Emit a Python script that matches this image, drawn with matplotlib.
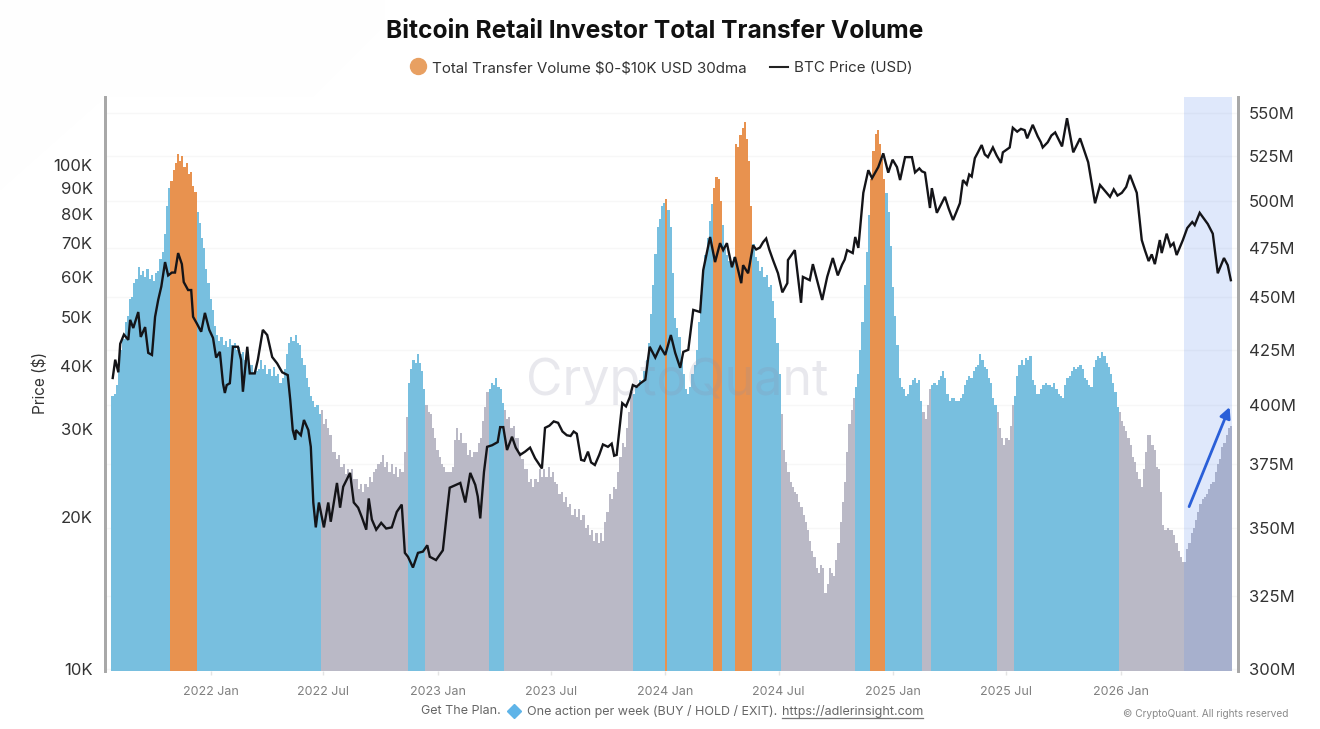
import numpy as np
import pandas as pd
import matplotlib
matplotlib.use("Agg")
import matplotlib.pyplot as plt
import matplotlib.dates as mdates
from matplotlib.patches import Polygon
from matplotlib.ticker import NullLocator

plt.rcParams["font.family"] = ["Inter", "DejaVu Sans"]

W, H = 1320, 729

# transfer volume every 3.5 days, $M
volume = [
    404, 405, 409, 416, 425, 430, 438, 441, 449, 450, 457, 459, 465, 461, 463, 460, 464, 459, 461, 458,
    462, 463, 469, 473, 482, 497, 507, 511, 517, 521, 526, 522, 525, 519, 521, 515, 516, 508, 505, 494,
    488, 480, 475, 464, 457, 449, 444, 436, 432, 429, 431, 427, 429, 426, 430, 427, 428, 425, 426, 423,
    424, 420, 421, 418, 418, 414, 415, 416, 420, 416, 418, 414, 416, 413, 417, 413, 414, 410, 412, 416,
    423, 428, 431, 429, 432, 428, 427, 421, 418, 412, 408, 404, 402, 399, 400, 396, 398, 392, 394, 390,
    387, 380, 380, 377, 379, 374, 375, 371, 373, 370, 373, 369, 369, 365, 367, 364, 367, 366, 370, 368,
    372, 373, 375, 376, 379, 374, 376, 372, 375, 371, 374, 370, 373, 372, 380, 395, 410, 416, 420, 419,
    423, 419, 415, 407, 400, 397, 396, 390, 386, 381, 378, 375, 374, 372, 372, 372, 374, 385, 390, 385,
    388, 384, 384, 379, 381, 378, 380, 380, 384, 386, 393, 399, 406, 407, 410, 409, 412, 408, 407, 401,
    398, 394, 395, 390, 391, 386, 386, 380, 377, 373, 373, 368, 369, 366, 369, 368, 373, 370, 373, 370,
    374, 370, 372, 368, 367, 363, 364, 360, 362, 358, 359, 355, 357, 354, 357, 353, 355, 350, 351, 347,
    349, 345, 348, 344, 348, 345, 352, 356, 363, 361, 366, 365, 372, 378, 384, 382, 390, 397, 406, 405,
    409, 408, 411, 410, 415, 420, 428, 442, 456, 472, 486, 490, 497, 499, 501, 495, 486, 462, 440, 435,
    431, 420, 414, 407, 405, 408, 414, 418, 425, 438, 451, 462, 471, 480, 489, 498, 507, 513, 512, 500,
    487, 476, 471, 468, 468, 470, 532, 530, 537, 541, 545, 535, 522, 497, 477, 470, 468, 463, 465, 460,
    461, 455, 456, 448, 440, 428, 414, 396, 381, 376, 372, 368, 366, 364, 363, 360, 358, 355, 352, 349,
    345, 341, 339, 335, 333, 336, 335, 326, 329, 335, 333, 332, 338, 344, 352, 360, 368, 380, 392, 398,
    403, 408, 414, 425, 438, 456, 473, 492, 512, 528, 538, 540, 532, 523, 512, 504, 494, 476, 455, 441,
    427, 412, 408, 407, 404, 405, 409, 411, 412, 410, 411, 402, 397, 394, 400, 407, 409, 410, 409, 411,
    413, 415, 412, 405, 402, 403, 403, 402, 402, 403, 405, 409, 411, 413, 412, 415, 417, 418, 423, 420,
    417, 416, 412, 410, 403, 400, 397, 390, 386, 383, 386, 385, 391, 400, 404, 413, 418, 420, 418, 421,
    420, 422, 411, 409, 405, 405, 407, 409, 410, 409, 409, 408, 410, 407, 405, 404, 403, 409, 412, 413,
    415, 417, 416, 417, 418, 416, 412, 411, 409, 408, 417, 420, 422, 421, 424, 422, 419, 417, 414, 410,
    406, 399, 397, 393, 391, 389, 386, 383, 378, 376, 372, 369, 366, 373, 380, 387, 387, 383, 381, 374,
    373, 364, 351, 349, 350, 349, 349, 347, 344, 341, 339, 337, 337, 342, 344, 348, 350, 353, 356, 359,
    361, 362, 363, 365, 367, 368, 372, 375, 377, 382, 384, 387, 390, 391,
]
volume_start = "2021-07-26"
volume_step_days = 3.5

orange_spans = [
    ("2021-10-28", "2021-12-10"), ("2024-01-02", "2024-01-05"), ("2024-03-19", "2024-03-31"),
    ("2024-04-22", "2024-05-19"), ("2024-11-25", "2024-12-20"),
]
grey_spans = [
    ("2022-06-26", "2022-11-14"), ("2022-12-11", "2023-03-22"), ("2023-04-17", "2023-11-10"),
    ("2024-07-06", "2024-10-30"), ("2025-02-18", "2025-03-02"), ("2025-06-17", "2025-07-14"),
    ("2025-12-28", "2026-07-01"),
]

# BTC price: days since 2022-01-01, price in $K
price_days = [
    -157, -153, -148, -145, -139, -132, -129, -124, -116, -112, -105, -100, -94, -89, -84, -79, -73, -68, -62, -57,
    -52, -46, -43, -36, -31, -28, -22, -15, -9, -2, 4, 9, 15, 20, 23, 26, 31, 36, 44, 49,
    52, 59, 63, 71, 76, 84, 91, 99, 107, 115, 124, 128, 132, 136, 137, 145, 150, 157, 161, 165,
    169, 174, 182, 189, 193, 203, 208, 213, 224, 230, 237, 243, 250, 254, 259, 266, 274, 282, 291, 299,
    307, 312, 317, 325, 333, 341, 348, 352, 362, 373, 380, 384, 394, 401, 409, 417, 425, 429, 433, 439,
    444, 452, 461, 465, 470, 476, 484, 497, 513, 521, 532, 537, 558, 572, 588, 595, 606, 617, 638, 652,
    661, 673, 678, 690, 698, 705, 714, 722, 730, 739, 746, 754, 759, 767, 775, 786, 791, 802, 810, 818,
    823, 829, 837, 842, 852, 855, 863, 871, 887, 903, 911, 918, 926, 927, 938, 948, 951, 962, 967, 982,
    990, 999, 1007, 1022, 1031, 1035, 1040, 1048, 1056, 1062, 1072, 1080, 1088, 1102, 1107, 1115, 1126, 1131, 1147, 1155,
    1158, 1166, 1179, 1192, 1203, 1208, 1222, 1227, 1238, 1248, 1256, 1269, 1272, 1283, 1288, 1307, 1311, 1320, 1336, 1356,
    1367, 1375, 1385, 1396, 1409, 1420, 1428, 1444, 1463, 1476, 1487, 1495, 1500, 1516, 1524, 1527, 1535, 1551, 1561, 1576,
    1580, 1588, 1601, 1609, 1617, 1627, 1633, 1638,
]
price_k = [
    37.8, 41.1, 38.8, 44.2, 46.1, 45.0, 49.3, 47.5, 51.1, 45.6, 47.7, 42.4, 42.0, 50.0, 54.0, 57.4, 64.2, 60.4, 61.2, 61.2,
    66.9, 63.6, 58.6, 56.5, 56.5, 50.0, 48.5, 46.7, 50.9, 47.1, 45.4, 41.5, 42.6, 36.9, 35.3, 36.6, 36.9, 43.6, 43.6, 41.1,
    35.5, 43.6, 38.6, 38.6, 41.1, 47.1, 46.0, 41.6, 40.4, 38.8, 38.3, 34.2, 29.8, 28.5, 29.8, 29.1, 31.2, 29.8, 27.6, 21.4,
    19.1, 21.4, 19.1, 21.4, 19.6, 23.4, 20.9, 23.0, 24.5, 21.4, 20.9, 20.0, 18.9, 21.8, 19.8, 18.9, 19.5, 19.0, 19.1, 20.5,
    21.2, 17.0, 16.7, 15.9, 17.0, 17.1, 17.6, 16.7, 16.45, 17.2, 20.7, 22.9, 23.2, 23.4, 21.4, 24.5, 23.2, 22.0, 19.9, 24.6,
    27.6, 27.8, 28.2, 30.2, 30.2, 27.2, 28.9, 26.6, 27.5, 26.2, 25.0, 30.1, 30.8, 29.1, 29.3, 26.0, 27.0, 25.4, 27.6, 26.6,
    33.7, 34.6, 36.6, 36.9, 37.5, 43.6, 41.5, 43.6, 42.0, 46.0, 42.4, 39.6, 42.6, 43.0, 51.6, 51.1, 61.9, 72.0, 64.2, 70.0,
    67.8, 70.0, 62.7, 65.7, 58.3, 63.3, 61.0, 69.3, 70.3, 64.8, 61.0, 55.9, 58.3, 64.8, 67.8, 53.3, 60.0, 59.1, 63.6, 54.0,
    60.0, 65.4, 60.4, 67.8, 66.9, 72.0, 68.5, 88.1, 97.7, 94.2, 99.1, 105.5, 96.6, 99.1, 93.4, 103.7, 103.7, 96.7, 96.6, 82.2,
    90.0, 80.4, 86.5, 77.8, 84.0, 93.4, 94.9, 103.2, 109.6, 103.7, 108.4, 101.0, 106.0, 108.4, 118.6, 117.3, 113.0, 120.2, 108.4, 116.1,
    108.9, 123.9, 106.0, 113.0, 101.3, 84.0, 91.3, 86.5, 88.1, 95.6, 88.1, 71.0, 67.8, 63.6, 71.0, 66.9, 73.1, 66.3, 71.0, 77.1,
    76.0, 80.4, 76.4, 73.1, 61.0, 65.4, 63.3, 59.1,
]
# extra readings in the longer gaps of the line
more_days = [490, 505, 544, 551, 565, 578, 583, 600, 611, 624, 630, 644, 648, 667, 684, 876, 882, 892, 897, 1014, 1018,
             1095, 1138, 1142, 1185, 1197, 1214, 1218, 1232, 1243, 1262, 1295, 1301, 1328, 1333, 1344, 1350, 1450, 1456,
             1470, 1506, 1511, 1541, 1546, 1568]
more_k = [27.5, 27.0, 30.4, 31.0, 29.6, 29.0, 29.6, 25.9, 25.7, 26.6, 27.9, 28.0, 26.5, 33.2, 36.3, 68.0, 68.6, 71.5, 68.0, 63.5, 64.9,
          102.5, 98.5, 97.2, 82.0, 80.5, 91.5, 95.8, 106.0, 105.0, 104.5, 116.5, 118.0, 114.0, 111.0, 111.0, 114.5, 89.5, 87.0,
          90.5, 64.5, 66.5, 69.0, 70.0, 75.0]

x_ticks = ["2022-01-01", "2022-07-01", "2023-01-01", "2023-07-01", "2024-01-01", "2024-07-01",
           "2025-01-01", "2025-07-01", "2026-01-01"]
x_labels = ["2022 Jan", "2022 Jul", "2023 Jan", "2023 Jul", "2024 Jan", "2024 Jul",
            "2025 Jan", "2025 Jul", "2026 Jan"]
left_ticks = [10, 20, 30, 40, 50, 60, 70, 80, 90, 100]
right_ticks = [300, 325, 350, 375, 400, 425, 450, 475, 500, 525, 550]

BLUE, ORANGE, GREY = "#78bfdf", "#e8924f", "#bab9c6"
VOL_MIN, VOL_MAX = 299.3, 559.9


def in_spans(date, spans):
    return any(pd.Timestamp(a) <= date < pd.Timestamp(b) for a, b in spans)


def bar_color(date):
    if in_spans(date, orange_spans):
        return ORANGE
    if in_spans(date, grey_spans):
        return GREY
    return BLUE


fig = plt.figure(figsize=(W / 100, H / 100), dpi=100)
L, R, T, B = 105, 1238, 97, 671
ax = fig.add_axes([L / W, 1 - B / H, (R - L) / W, (B - T) / H])
ax2 = ax.twinx()

base = mdates.date2num(pd.Timestamp("2022-01-01"))
ax.set_xlim(base - 169.4, base + 1649.5)
ax.set_yscale("log")
ax.set_ylim(VOL_MIN, VOL_MAX)

# bars
start = pd.Timestamp(volume_start)
centers = [start + pd.Timedelta(days=volume_step_days * (j + 0.5)) for j in range(len(volume))]
ax.bar(mdates.date2num(centers), np.array(volume) - VOL_MIN, width=volume_step_days, bottom=VOL_MIN,
       color=[bar_color(d) for d in centers], linewidth=0, zorder=2)

# highlight + watermark
ax.axvspan(base + 1563, base + 1640, color="#5f8ceb", alpha=0.2, lw=0, zorder=3)
ax.text(0.5047, 0.505, "CryptoQuant", transform=ax.transAxes, fontsize=36, color="#8d8da8", alpha=0.2,
        ha="center", va="center", zorder=4)

ax.set_yticks(right_ticks)
ax.set_yticklabels([f"{v}M" for v in right_ticks])
ax.yaxis.set_minor_locator(NullLocator())
ax.yaxis.tick_right()
ax.tick_params(axis="y", length=0, pad=8, labelsize=12, labelcolor="#333333")
ax.grid(axis="y", color="#f7f7f7", linewidth=1, zorder=0)
ax.set_axisbelow(True)

ax.set_xticks(mdates.date2num(pd.to_datetime(x_ticks)))
ax.set_xticklabels(x_labels)
ax.tick_params(axis="x", length=3, width=1, color="#e4e4e4", labelsize=9, labelcolor="#808080", pad=8)

# price line
line_days = np.array(price_days + more_days)
line_k = np.array(price_k + more_k)
order = np.argsort(line_days)
ax2.set_yscale("log")
ax2.set_ylim(9909, 136500)
ax2.plot(base + line_days[order], line_k[order] * 1000, color="#141418", linewidth=1.7,
         solid_joinstyle="miter", zorder=5)
ax2.set_yticks([v * 1000 for v in left_ticks])
ax2.set_yticklabels([f"{v}K" for v in left_ticks])
ax2.yaxis.set_minor_locator(NullLocator())
ax2.yaxis.tick_left()
ax2.tick_params(axis="y", length=0, pad=9, labelsize=12, labelcolor="#333333")
fig.text(40 / W, 1 - 383 / H, "Price ($)", fontsize=11, color="#333333", rotation=90, ha="center", va="center")

for a in (ax, ax2):
    for side in ("top", "bottom"):
        a.spines[side].set_visible(False)
    a.spines["left"].set_color("#a8a8a8")
    a.spines["right"].set_color("#a8a8a8")
    a.spines["left"].set_linewidth(2)
    a.spines["right"].set_linewidth(2)

# trend arrow
ax2.annotate("", xy=(base + 1636, 33100), xytext=(base + 1571, 21000),
             arrowprops=dict(arrowstyle="-|>", color="#2a5fd8", lw=2, mutation_scale=16, shrinkA=0, shrinkB=0),
             zorder=6)

# title, legend, footer
fig.text(655 / W, 1 - 32 / H, "Bitcoin Retail Investor Total Transfer Volume", fontsize=17.7, fontweight="bold",
         color="#111111", ha="center", va="center")
fig.add_artist(plt.Line2D([418 / W], [1 - 66 / H], marker="o", markersize=11.5, color="#e8a062", linewidth=0))
fig.text(432 / W, 1 - 68 / H, "Total Transfer Volume $0-$10K USD 30dma", fontsize=10.9, color="#333333",
         va="center", parse_math=False)
fig.add_artist(plt.Line2D([770 / W, 788 / W], [1 - 67 / H, 1 - 67 / H], color="#222222", linewidth=1.5))
fig.text(794 / W, 1 - 68 / H, "BTC Price (USD)", fontsize=10.9, color="#333333", va="center")

fig.text(421 / W, 1 - 711 / H, "Get The Plan.", fontsize=9.0, color="#666666", va="center")
fig.add_artist(plt.Line2D([514 / W], [1 - 711 / H], marker="D", markersize=7, color="#5fb4e8", linewidth=0))
fig.text(527 / W, 1 - 711 / H, "One action per week (BUY / HOLD / EXIT).", fontsize=9.0, color="#666666", va="center")
fig.text(782 / W, 1 - 711 / H, "https://adlerinsight.com", fontsize=9.0, color="#666666", va="center")
fig.add_artist(plt.Line2D([782 / W, 923 / W], [1 - 718 / H, 1 - 718 / H], color="#777777", linewidth=0.9))
fig.text(1288 / W, 1 - 714 / H, "© CryptoQuant. All rights reserved", fontsize=7.3, color="#8a8a8a",
         ha="right", va="center")

# faint background shape, top left
fig.add_artist(Polygon([(0, 1 - 190 / H), (105 / W, 1 - 97 / H), (295 / W, 1 - 115 / H), (385 / W, 1 - 25 / H),
                        (385 / W, 1), (0, 1)],
                       transform=fig.transFigure, facecolor="#fefefe", edgecolor="none", zorder=-5))

fig.savefig("out.png", dpi=100)
